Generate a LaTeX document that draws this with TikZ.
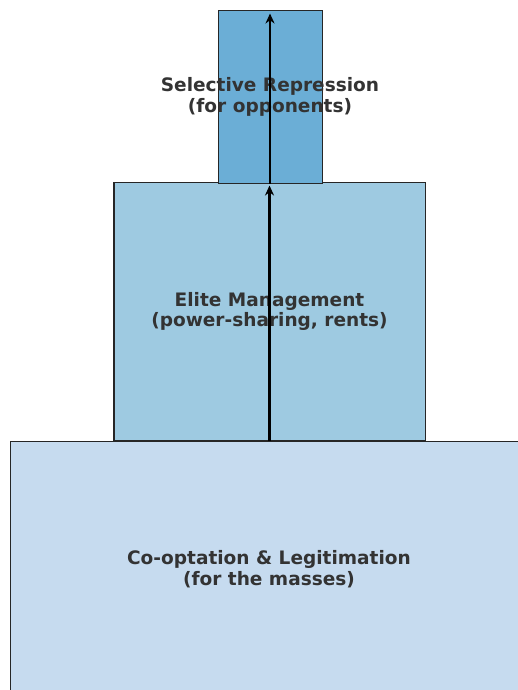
\documentclass[tikz,border=0pt]{standalone}
\usepackage{fontspec}
\setmainfont{DejaVu Sans}
\usepackage{xcolor}
\usetikzlibrary{arrows.meta, positioning}
\definecolor{tierbase}{HTML}{C6DBEF}
\definecolor{tiermid}{HTML}{9ECAE1}
\definecolor{tiertop}{HTML}{6BAED6}
\definecolor{labelgray}{HTML}{333333}

\begin{document}
\begin{tikzpicture}[x=1bp, y=-1bp,
  tier/.style={rectangle, draw=black!85, line width=1bp, inner sep=0pt},
  tiertext/.style={align=center, inner sep=0pt, text=labelgray,
    font=\bfseries\fontsize{18.6}{20.5}\selectfont},
  flow/.style={-{Stealth[length=10bp, width=9bp]}, line width=2.4bp, black}]
\useasboundingbox (0,0) rectangle (518,690);
\clip (0,0) rectangle (518,690);
% Three tiers, widest at the base
\node[tier, fill=tierbase, minimum width=516bp, minimum height=256bp,
  label={[tiertext]center:Co-optation \& Legitimation\\(for the masses)}] (base) at (269,569) {};
\node[tier, fill=tiermid, minimum width=311bp, minimum height=257bp,
  label={[tiertext]center:Elite Management\\(power-sharing, rents)}] (elite) at (269.5,311.5) {};
\node[tier, fill=tiertop, minimum width=104bp, minimum height=172bp,
  label={[tiertext]center:Selective Repression\\(for opponents)}] (repress) at (270,97) {};

% Upward arrows through the tiers
\draw[flow, shorten >=3bp] (elite.south) -- (elite.north);
\draw[flow, shorten >=3bp] (repress.south) -- (repress.north);
\end{tikzpicture}
\end{document}
